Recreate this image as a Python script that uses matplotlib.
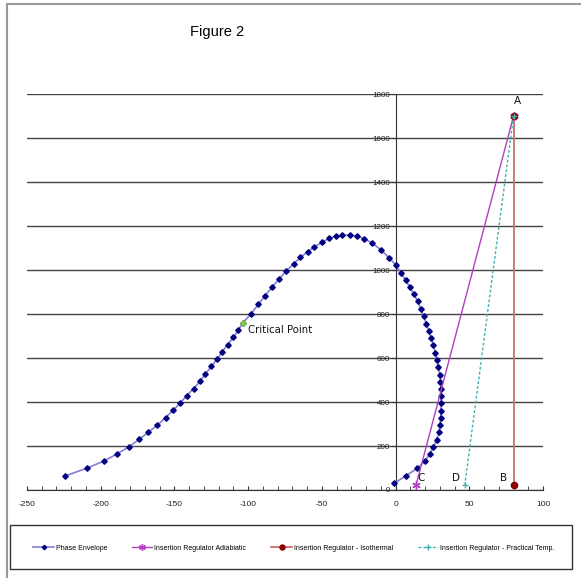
import matplotlib
matplotlib.use('Agg')
import matplotlib.pyplot as plt
from matplotlib.lines import Line2D
from matplotlib.patches import Rectangle

plt.rcParams['axes.unicode_minus'] = False

# phase envelope (temperature, pressure)
env_x = [-224, -209.6, -198, -189, -181, -174, -167.6, -161.7, -156, -151, -146, -141.7,
         -137, -132.6, -129, -125, -121, -117.6, -114, -110, -106.7, -103.5, -98, -93,
         -88.5, -83.6, -79, -74, -69, -64.5, -59.7, -55, -50, -45, -40.4, -36, -31,
         -26.5, -21.6, -15.8, -9.6, -4.4, 0, 3.4, 6.8, 9.7, 12.5, 15, 17, 19, 20.9,
         22.5, 24, 25.7, 27, 28.1, 29, 30, 30.4, 30.8, 31, 31, 30.8, 30.6, 30.1, 29.5,
         27.9, 25.7, 23.2, 19.8, 14.8, 6.8, -0.9]
env_y = [64, 99, 131, 164, 196, 230, 263, 295, 329, 362, 396, 429,
         461, 495, 528, 562, 595, 629, 661, 694, 727, 761, 802, 845,
         884, 924, 960, 997, 1030, 1058, 1084, 1106, 1126, 1145, 1154, 1158, 1160,
         1155, 1144, 1123, 1090, 1056, 1025, 989, 955, 922, 890, 858, 823, 790, 757,
         723, 691, 658, 625, 591, 558, 525, 493, 459, 427, 394, 361, 329, 296, 262,
         229, 196, 164, 131, 99, 64, 30]
crit_x = [-103.5]
crit_y = [761]

adiab_x = [80, 14]
adiab_y = [1700, 25]
iso_x = [80, 80]
iso_y = [1700, 25]
prac_x = [80, 47]
prac_y = [1700, 25]

point_labels = ['A', 'B', 'C', 'D']
point_x = [83, 73, 17.5, 41]
point_y = [1745, 32, 32, 32]

W, H = 581, 582
fig = plt.figure(figsize=(W / 100, H / 100), dpi=100)
ax = fig.add_axes([27 / W, 1 - 490 / H, (543 - 27) / W, (490 - 94.3) / H])

ax.plot(env_x, env_y, color='#8080d8', lw=1.2, marker='D', ms=2.8,
        mfc='#000080', mec='#000080', label='Phase Envelope', zorder=3)
ax.plot(crit_x, crit_y, 'D', ms=2.8, color='#80c840', zorder=4)
ax.plot(adiab_x, adiab_y, color='#b040c0', lw=1, marker=(6, 2, 0), ms=6,
        label='Insertion Regulator Adiabiatic', zorder=3)
ax.plot(iso_x, iso_y, color='#c87070', lw=1.3, marker='o', ms=4.5,
        mfc='#8b0000', mec='#8b0000', label='Insertion Regulator - Isothermal', zorder=3)
ax.plot(prac_x, prac_y, color='#40b0b0', lw=1, ls=(0, (2, 1.5)), marker='+', ms=5,
        label='Insertion Regulator - Practical Temp.', zorder=3)

for t, x, y in zip(point_labels, point_x, point_y):
    ax.text(x, y, t, fontsize=7.5, ha='center', va='bottom', color='#111')
ax.text(-100, 728, 'Critical Point', fontsize=7.3, ha='left', va='center', color='#111')

ax.set_xlim(-250, 100)
ax.set_ylim(0, 1800)
ax.set_facecolor('none')
for s in ['top', 'right']:
    ax.spines[s].set_visible(False)
ax.spines['left'].set_position(('data', 0))
ax.spines['bottom'].set_position(('data', 0))
ax.spines['left'].set_color('#333')
ax.spines['bottom'].set_color('#333')

ax.set_xticks(range(-250, 101, 50))
ax.set_xticks(range(-250, 101, 10), minor=True)
ax.set_yticks(range(0, 1801, 200))
ax.tick_params(axis='x', which='both', direction='in', length=3, color='#333',
               labelsize=6, pad=8, labelcolor='#222')
ax.tick_params(axis='y', direction='out', length=3, color='#333',
               labelsize=5.8, pad=1, labelcolor='#222')
for lab in ax.get_xticklabels() + ax.get_yticklabels():
    lab.set_family('Liberation Sans')
ax.yaxis.grid(True, color='#444', lw=1)
ax.set_axisbelow(True)

fig.text(217 / W, 1 - 32 / H, 'Figure 2', fontsize=10.5, family='Liberation Sans',
         ha='center', va='center')

# legend box
fig.patches.append(Rectangle((10 / W, 1 - 569 / H), (572 - 10) / W, (569 - 525) / H,
                             transform=fig.transFigure, fill=False, ec='#333', lw=1))
fig.legend(loc='center', bbox_to_anchor=(294 / W, 1 - 548 / H), ncol=4, frameon=False,
           prop={'family': 'Liberation Sans', 'size': 5}, handlelength=2.9,
           handletextpad=0.3, columnspacing=3.6, markerscale=0.8)

# outer frame
fig.lines.append(Line2D([7 / W, 7 / W], [1 - 577 / H, 1 - 4 / H], transform=fig.transFigure,
                        color='#999', lw=1.5))
fig.lines.append(Line2D([7 / W, 1], [1 - 4 / H, 1 - 4 / H], transform=fig.transFigure,
                        color='#999', lw=1.5))

fig.savefig('out.png', dpi=100)
